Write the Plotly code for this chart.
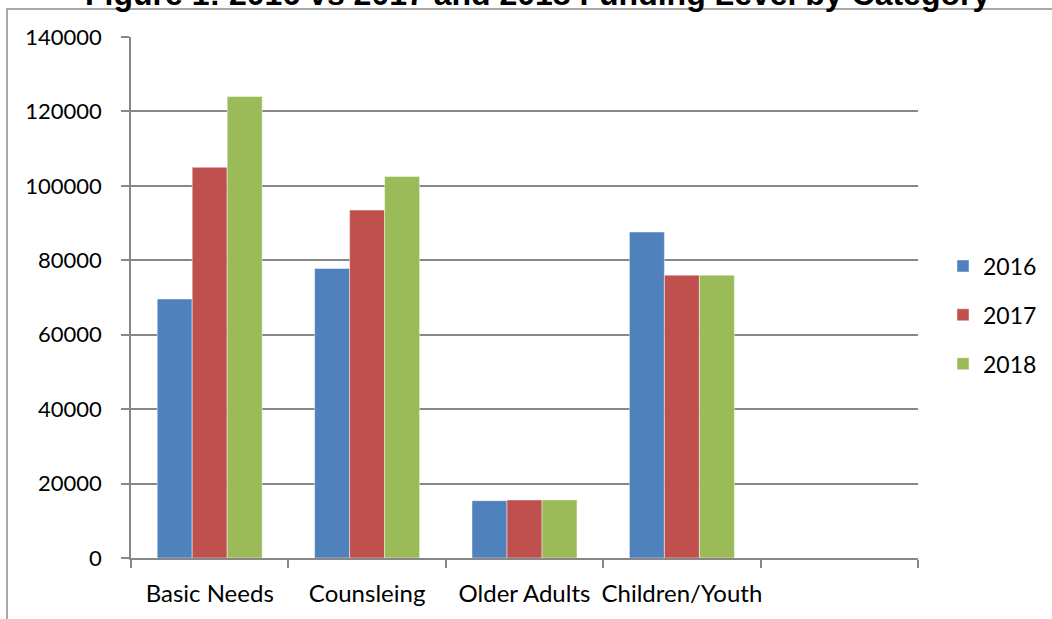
import plotly.graph_objects as go

categories = ["Basic Needs", "Counsleing", "Older Adults", "Children/Youth"]
axis_slots = ["Basic Needs", "Counsleing", "Older Adults", "Children/Youth", " "]
years = ["2016", "2017", "2018"]
values_2016 = [69600, 77800, 15400, 87600]
values_2017 = [105000, 93500, 15600, 76000]
values_2018 = [124000, 102500, 15600, 76000]
colors = ["#4F81BD", "#C0504D", "#9BBB59"]
y_ticks = [0, 20000, 40000, 60000, 80000, 100000, 120000, 140000]
title_text = "Figure 1: 2016 vs 2017 and 2018 Funding Level by Category"

W, H = 1052, 619
L, R, T, B = 131, 134, 37, 61
pw, ph = W - L - R, H - T - B

def px_x(p):
    return (p - L) / pw

def px_y(p):
    return (H - B - p) / ph

FONT = "Lato, 'Open Sans', sans-serif"
GRID = "#878787"

fig = go.Figure()
for name, vals, col in zip(years, [values_2016, values_2017, values_2018], colors):
    fig.add_trace(go.Bar(
        x=categories, y=vals, name=name, legendgroup=name,
        marker=dict(color=col, line=dict(color="rgba(255,255,255,0.45)", width=1)),
    ))

fig.update_layout(
    width=W, height=H,
    margin=dict(l=L, r=R, t=T, b=B, autoexpand=False),
    paper_bgcolor="white", plot_bgcolor="white",
    barmode="group", bargap=0.333, bargroupgap=0,
    font=dict(family=FONT, size=22, color="#000000"),
    showlegend=True,
    legend=dict(
        x=px_x(943), xanchor="left", y=px_y(315), yanchor="middle",
        traceorder="grouped", tracegroupgap=16,
        font=dict(family=FONT, size=23, color="#000000"),
        bgcolor="rgba(0,0,0,0)", itemwidth=30,
    ),
    xaxis=dict(
        type="category", categoryorder="array", categoryarray=axis_slots,
        range=[-0.5, 4.5], tickson="boundaries", ticks="outside", ticklen=8,
        tickcolor=GRID, tickwidth=1.5, showline=True, linecolor=GRID, linewidth=1.5,
        showgrid=False, ticklabelstandoff=13, tickangle=0,
        tickfont=dict(family=FONT, size=24, color="#000000"),
    ),
    yaxis=dict(
        range=[0, 140000], tickvals=y_ticks, ticktext=[str(v) for v in y_ticks],
        ticks="outside", ticklen=8, tickcolor=GRID, tickwidth=1.5,
        showline=True, linecolor=GRID, linewidth=1.5,
        showgrid=True, gridcolor=GRID, gridwidth=1.5, zeroline=False,
        ticklabelstandoff=15,
        tickfont=dict(family=FONT, size=22, color="#000000"),
    ),
    annotations=[dict(
        text="<b>" + title_text + "</b>", xref="paper", yref="paper",
        x=px_x(537), y=px_y(-6), xanchor="center", yanchor="middle",
        showarrow=False, font=dict(family="Liberation Sans, Arial, sans-serif", size=32, color="#000000"),
    )],
    shapes=[dict(
        type="path", xref="paper", yref="paper",
        path=f"M {px_x(7)} {px_y(H + 5)} L {px_x(7)} {px_y(9)} L {px_x(W + 5)} {px_y(9)}",
        line=dict(color="#8C8C8C", width=1.5), layer="below",
    )],
)

fig.write_html("out.html")
